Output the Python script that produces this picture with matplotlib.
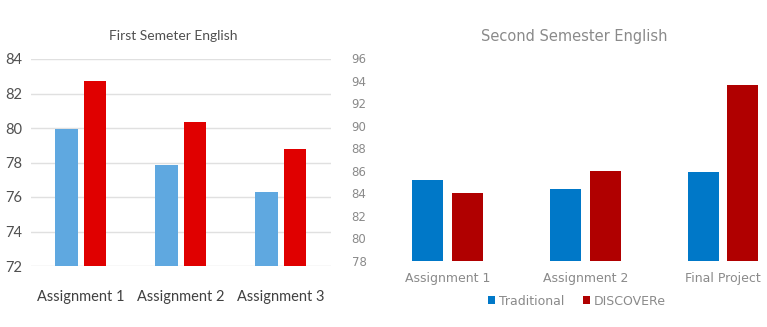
import numpy as np
import matplotlib
matplotlib.use('Agg')
import matplotlib.pyplot as plt

# first semester
sem1_labels = ['Assignment 1', 'Assignment 2', 'Assignment 3']
sem1_trad = [79.96, 77.85, 76.3]
sem1_disc = [82.7, 80.33, 78.76]

# second semester
sem2_labels = ['Assignment 1', 'Assignment 2', 'Final Project']
sem2_trad = [85.2, 84.35, 85.85]
sem2_disc = [84.05, 86.0, 93.6]

W, H = 767, 327
fig = plt.figure(figsize=(W / 100, H / 100), dpi=100)

# ---- left chart ----
ax1 = fig.add_axes([31 / W, 61 / H, 300 / W, 207 / H])
x = np.arange(len(sem1_labels))
ax1.bar(x - 0.145, np.array(sem1_trad) - 72, 0.225, bottom=72, color='#5FA8E0', zorder=2)
ax1.bar(x + 0.14, np.array(sem1_disc) - 72, 0.225, bottom=72, color='#E00000', zorder=2)
ax1.set_xlim(-0.5, 2.5)
ax1.set_ylim(72, 84)
ax1.set_yticks(np.arange(72, 85, 2))
ax1.set_xticks(x)
ax1.set_xticklabels(sem1_labels)
ax1.grid(axis='y', color='#E0E0E0', linewidth=1, zorder=0)
for s in ax1.spines.values():
    s.set_visible(False)
ax1.tick_params(length=0)
ax1.tick_params(axis='y', pad=6, labelsize=10.5, labelcolor='#505050')
ax1.tick_params(axis='x', pad=17, labelsize=10.5, labelcolor='#404040')
for t in ax1.get_xticklabels() + ax1.get_yticklabels():
    t.set_family('Lato')
ax1.set_title('First Semeter English', family='Lato', x=0.473,
              fontsize=10, color='#505050', pad=14)

# ---- right chart ----
ax2 = fig.add_axes([379 / W, 66 / H, (W - 379) / W, 203 / H])
x2 = np.arange(len(sem2_labels))
ax2.bar(x2 - 0.145, np.array(sem2_trad) - 78, 0.225, bottom=78, color='#0078C8', label='Traditional')
ax2.bar(x2 + 0.145, np.array(sem2_disc) - 78, 0.225, bottom=78, color='#B00000', label='DISCOVERe')
ax2.set_xlim(-0.5, 2.32)
ax2.set_ylim(78, 96)
ax2.set_yticks(np.arange(78, 97, 2))
ax2.set_xticks(x2)
ax2.set_xticklabels(sem2_labels)
for s in ax2.spines.values():
    s.set_visible(False)
ax2.tick_params(length=0)
ax2.tick_params(axis='y', pad=9, labelsize=8.5, labelcolor='#8A8A8A')
ax2.tick_params(axis='x', pad=8, labelsize=9, labelcolor='#8A8A8A')
ax2.set_title('Second Semester English', fontsize=10.5, color='#8A8A8A', pad=12,
              x=(574 - 379) / (W - 379))
ax2.legend(loc='upper center', bbox_to_anchor=((577 - 379) / (W - 379), -0.11),
           ncol=2, frameon=False, fontsize=9, labelcolor='#8A8A8A',
           handlelength=0.55, handleheight=0.55, handletextpad=0.3, columnspacing=1.5)

fig.savefig('out.png', dpi=100)
